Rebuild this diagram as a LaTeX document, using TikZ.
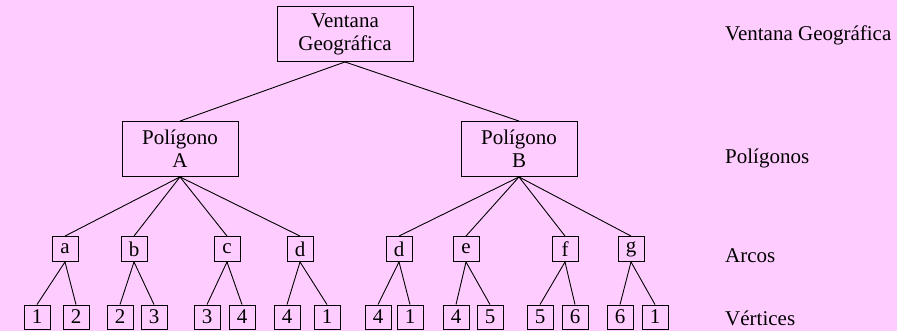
\documentclass[tikz,border=0pt]{standalone}
\usepackage{fontspec}
\setmainfont{Liberation Serif}
\definecolor{bgpink}{HTML}{FFCCFF}
\begin{document}
\begin{tikzpicture}[x=1pt,y=1pt,
  every node/.style={font=\fontsize{21}{23}\selectfont, inner sep=0pt},
  bigbox/.style={draw, line width=0.9pt, align=center, minimum height=55},
  smallbox/.style={draw, line width=0.9pt, minimum width=26, minimum height=25},
  leafbox/.style={draw, line width=0.9pt, minimum width=26, minimum height=24},
  lvl/.style={anchor=west},
  edge/.style={line width=0.9pt}]
\fill[bgpink] (0,0) rectangle (897,-331);
\useasboundingbox (0,0) rectangle (897,-331);
% top
\node[bigbox, minimum width=136] (top) at (345,-34) {Ventana\\Geográfica};
\node[bigbox, minimum width=116] (pa) at (180,-149) {Polígono\\A};
\node[bigbox, minimum width=116] (pb) at (519,-149) {Polígono\\B};
% arcs
\node[smallbox] (a) at (65,-249) {a};
\node[smallbox] (b) at (134,-249) {b};
\node[smallbox] (c) at (227,-249) {c};
\node[smallbox] (d) at (300,-249) {d};
\node[smallbox] (d2) at (399,-249) {d};
\node[smallbox] (e) at (466,-249) {e};
\node[smallbox] (f) at (565,-249) {f};
\node[smallbox] (g) at (631,-249) {g};
% leaves
\node[leafbox] (a1) at (37,-317) {1};
\node[leafbox] (a2) at (76,-317) {2};
\node[leafbox] (b1) at (120,-317) {2};
\node[leafbox] (b2) at (154,-317) {3};
\node[leafbox] (c1) at (207,-317) {3};
\node[leafbox] (c2) at (242,-317) {4};
\node[leafbox] (d1) at (287,-317) {4};
\node[leafbox] (dd2) at (327,-317) {1};
\node[leafbox] (e1) at (378,-317) {4};
\node[leafbox] (e2) at (410,-317) {1};
\node[leafbox] (f1) at (456,-317) {4};
\node[leafbox] (f2) at (490,-317) {5};
\node[leafbox] (g1) at (540,-317) {5};
\node[leafbox] (g2) at (575,-317) {6};
\node[leafbox] (h1) at (620,-317) {6};
\node[leafbox] (h2) at (655,-317) {1};
% level labels
\node[lvl] (l1) at (725,-35) {Ventana Geográfica};
\node[lvl] (l2) at (725,-158) {Polígonos};
\node[lvl] (l3) at (725,-256) {Arcos};
\node[lvl] (l4) at (725,-318) {Vértices};
% edges
\draw[edge] (top.south) -- (pa.north);
\draw[edge] (top.south) -- (pb.north);
\foreach \n in {a,b,c,d} \draw[edge] (pa.south) -- (\n.north);
\foreach \n in {d2,e,f,g} \draw[edge] (pb.south) -- (\n.north);
\draw[edge] (a.south) -- (a1.north); \draw[edge] (a.south) -- (a2.north);
\draw[edge] (b.south) -- (b1.north); \draw[edge] (b.south) -- (b2.north);
\draw[edge] (c.south) -- (c1.north); \draw[edge] (c.south) -- (c2.north);
\draw[edge] (d.south) -- (d1.north); \draw[edge] (d.south) -- (dd2.north);
\draw[edge] (d2.south) -- (e1.north); \draw[edge] (d2.south) -- (e2.north);
\draw[edge] (e.south) -- (f1.north); \draw[edge] (e.south) -- (f2.north);
\draw[edge] (f.south) -- (g1.north); \draw[edge] (f.south) -- (g2.north);
\draw[edge] (g.south) -- (h1.north); \draw[edge] (g.south) -- (h2.north);
\end{tikzpicture}
\end{document}
